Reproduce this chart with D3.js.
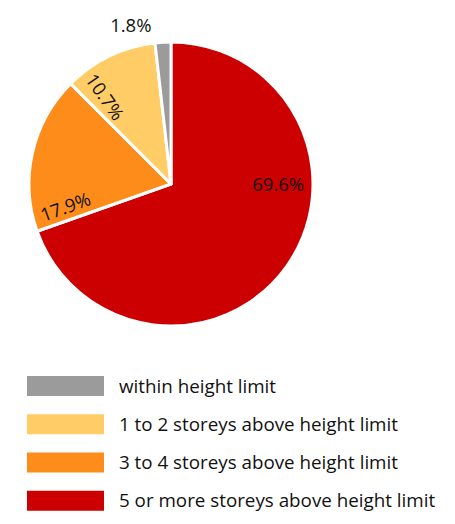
<!DOCTYPE html>
<html>
<head>
<meta charset="utf-8">
<script src="https://cdn.jsdelivr.net/npm/d3@7"></script>
<style>
  body { margin: 0; background: #fff; }
  text { font-family: "Open Sans", sans-serif; fill: #111; }
</style>
</head>
<body>
<script>
const categories = [
    '5 or more storeys above height limit',
    '3 to 4 storeys above height limit',
    '1 to 2 storeys above height limit',
    'within height limit'
];
const values = [69.6, 17.9, 10.7, 1.8];
const colors = ['#cc0000', '#fd8c1b', '#ffcc66', '#9b9b9b'];
const legendOrder = [3, 2, 1, 0];

// label placement: fraction through slice, radius factor, rotation
const labelPos = [
    { t: 0.36, r: 0.755, rot: 0 },
    { t: 0.11, r: 0.76, rot: -20 },
    { t: 0.20, r: 0.77, rot: 55 },
    { t: -1.2, r: 1.15, rot: 0 }
];

const width = 455, height = 524;
const cx = 171, cy = 184, radius = 142;

const svg = d3
    .select('body')
    .append('svg')
    .attr('width', width)
    .attr('height', height);

const pie = d3.pie().sort(null).value(d => d);
const arcs = pie(values);
const arc = d3.arc().innerRadius(0).outerRadius(radius);

const g = svg.append('g').attr('transform', `translate(${cx}, ${cy})`);

g.selectAll('path')
    .data(arcs)
    .enter()
    .append('path')
    .attr('d', arc)
    .attr('fill', (d, i) => colors[i])
    .attr('stroke', '#fff')
    .attr('stroke-width', 3)
    .attr('stroke-linejoin', 'round');

// Labels
g.selectAll('text.lbl')
    .data(arcs)
    .enter()
    .append('text')
    .attr('class', 'lbl')
    .attr('transform', (d, i) => {
        const p = labelPos[i];
        const a = d.startAngle + (d.endAngle - d.startAngle) * p.t;
        const r = radius * p.r;
        return `translate(${r * Math.sin(a)}, ${-r * Math.cos(a)}) rotate(${p.rot})`;
    })
    .attr('text-anchor', 'middle')
    .attr('dy', '0.35em')
    .style('font-size', '18.5px')
    .text((d, i) => values[i].toFixed(1) + '%');

// Legend
const legendScale = d3.scaleBand()
    .domain(legendOrder)
    .range([367, 520])
    .paddingInner(0);

const legend = svg.selectAll('g.legend')
    .data(legendOrder)
    .enter()
    .append('g')
    .attr('class', 'legend')
    .attr('transform', d => `translate(27, ${legendScale(d) + 9})`);

legend.append('rect')
    .attr('width', 77)
    .attr('height', 20)
    .attr('fill', d => colors[d]);

legend.append('text')
    .attr('x', 92)
    .attr('y', 10)
    .attr('dy', '0.35em')
    .style('font-size', '18.8px')
    .text(d => categories[d]);
</script>
</body>
</html>
